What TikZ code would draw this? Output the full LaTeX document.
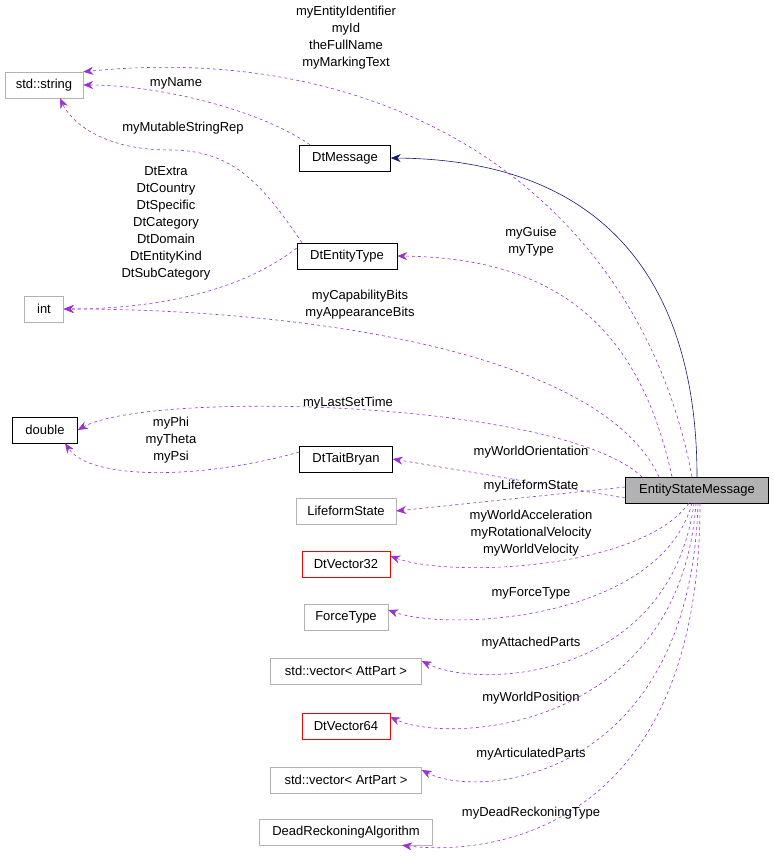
\documentclass[tikz,border=0pt]{standalone}
\usepackage{fontspec}
\setmainfont{Liberation Sans}
\usetikzlibrary{arrows.meta,positioning}
\definecolor{orchid}{HTML}{9A32CD}
\definecolor{inhblue}{HTML}{191970}
\tikzset{
  cls/.style={draw=black, fill=white, inner sep=0pt, minimum height=26pt, font=\fontsize{13}{15}\selectfont},
  ext/.style={cls, draw=gray!60},
  bad/.style={cls, draw=red},
  use/.style={-{Stealth[length=10pt,width=8pt]}, dashed, orchid, semithick},
  inh/.style={-{Stealth[length=10pt,width=8pt]}, inhblue, semithick},
  lbl/.style={font=\fontsize{13}{17}\selectfont, align=center}
}
\begin{document}
\begin{tikzpicture}[x=1pt,y=-1pt]
        \useasboundingbox (0,0) rectangle (773,861);

        % Classes
        \node[ext, minimum width=78pt] (str) at (44,85) {std::string};
        \node[ext, minimum width=39pt] (int) at (44,309) {int};
        \node[cls, minimum width=65pt] (dbl) at (45,430) {double};
        \node[cls, minimum width=91pt] (msg) at (345,158) {DtMessage};
        \node[cls, minimum width=100pt] (etype) at (347,256) {DtEntityType};
        \node[cls, minimum width=93pt] (tait) at (346,459) {DtTaitBryan};
        \node[ext, minimum width=100pt] (life) at (346,511) {LifeformState};
        \node[bad, minimum width=88pt] (v32) at (346,564) {DtVector32};
        \node[ext, minimum width=84pt] (force) at (346,617) {ForceType};
        \node[ext, minimum width=151pt] (att) at (346,671) {std::vector< AttPart >};
        \node[bad, minimum width=88pt] (v64) at (346,726) {DtVector64};
        \node[ext, minimum width=151pt] (art) at (346,780) {std::vector< ArtPart >};
        \node[ext, minimum width=173pt] (dra) at (346,832) {DeadReckoningAlgorithm};
        \node[cls, fill=gray!60, minimum width=143pt] (esm) at (697,490) {EntityStateMessage};

        % Inheritance
        \draw[inh] (esm.north) .. controls (697,300) and (620,160) .. (msg.east);

        % Members of EntityStateMessage
        \draw[use] ([xshift=-5pt]esm.north) .. controls (640,200) and (400,40) .. (str.north east);
        \draw[use] ([xshift=-25pt]esm.north) .. controls (640,330) and (560,258) .. (etype.east);
        \draw[use] ([xshift=-38pt]esm.north) .. controls (600,350) and (300,309) .. (int.east);
        \draw[use] ([xshift=-55pt]esm.north) .. controls (560,400) and (150,390) .. (dbl.east);
        \draw[use] ([yshift=-8pt]esm.west) -- (tait.east);
        \draw[use] ([yshift=3pt]esm.west) -- (life.east);
        \draw[use] ([xshift=-8pt]esm.south) .. controls (640,570) and (450,578) .. ([yshift=8pt]v32.east);
        \draw[use] ([xshift=-5pt]esm.south) .. controls (660,620) and (450,632) .. ([yshift=7pt]force.east);
        \draw[use] ([xshift=-3pt]esm.south) .. controls (670,680) and (480,690) .. ([yshift=10pt]att.east);
        \draw[use] ([xshift=-1pt]esm.south) .. controls (680,730) and (450,745) .. ([yshift=9pt]v64.east);
        \draw[use] ([xshift=1pt]esm.south) .. controls (690,780) and (480,800) .. ([yshift=10pt]art.east);
        \draw[use] ([xshift=3pt]esm.south) .. controls (700,840) and (480,855) .. ([xshift=56pt]dra.south);

        % Members of the other classes
        \draw[use] ([xshift=-35pt]msg.north) .. controls (260,110) and (160,85) .. (str.east);
        \draw[use] ([xshift=-45pt]etype.north) .. controls (260,180) and (230,150) .. (170,150) .. controls (100,150) and (70,120) .. ([xshift=16pt]str.south);
        \draw[use] ([yshift=8pt]etype.west) .. controls (230,300) and (130,309) .. (int.east);
        \draw[use] ([yshift=7pt]tait.west) .. controls (200,480) and (90,480) .. ([xshift=20pt]dbl.south);

        % Labels
        \node[lbl] (l1) at (346,38) {myEntityIdentifier\\myId\\theFullName\\myMarkingText};
        \node[lbl] (l2) at (176,83) {myName};
        \node[lbl] (l3) at (183,128) {myMutableStringRep};
        \node[lbl] (l4) at (166,223) {DtExtra\\DtCountry\\DtSpecific\\DtCategory\\DtDomain\\DtEntityKind\\DtSubCategory};
        \node[lbl] (l5) at (531,242) {myGuise\\myType};
        \node[lbl] (l6) at (360,305) {myCapabilityBits\\myAppearanceBits};
        \node[lbl] (l7) at (348,403) {myLastSetTime};
        \node[lbl] (l8) at (171,440) {myPhi\\myTheta\\myPsi};
        \node[lbl] (l9) at (531,452) {myWorldOrientation};
        \node[lbl] (l10) at (531,486) {myLifeformState};
        \node[lbl] (l11) at (531,533) {myWorldAcceleration\\myRotationalVelocity\\myWorldVelocity};
        \node[lbl] (l12) at (531,593) {myForceType};
        \node[lbl] (l13) at (531,643) {myAttachedParts};
        \node[lbl] (l14) at (531,698) {myWorldPosition};
        \node[lbl] (l15) at (531,754) {myArticulatedParts};
        \node[lbl] (l16) at (531,813) {myDeadReckoningType};
\end{tikzpicture}
\end{document}
